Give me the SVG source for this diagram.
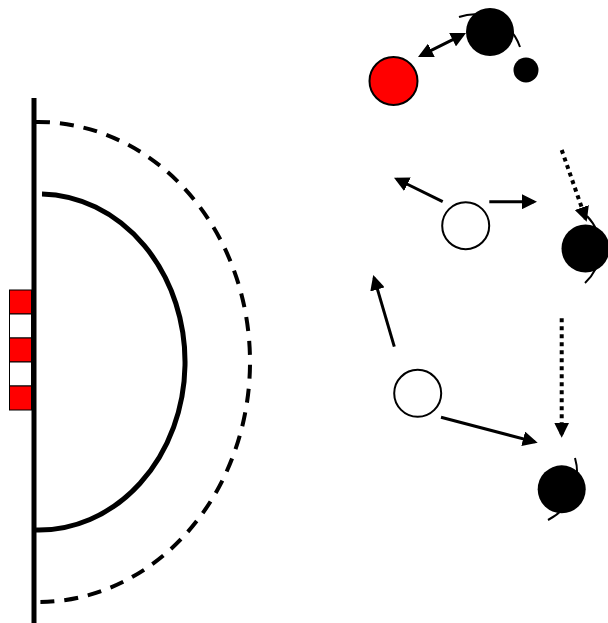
<svg xmlns="http://www.w3.org/2000/svg" width="608" height="623" viewBox="0 0 608 623">
  <style>
    .court { fill: none; stroke: #000; }
    .arr { fill: none; stroke: #000; stroke-width: 3; }
    .dot { fill: none; stroke: #000; stroke-width: 4; stroke-dasharray: 4 4; }
    .stick { fill: none; stroke: #000; stroke-width: 2; }
    .opp { fill: #000; }
    .att { fill: #fff; stroke: #000; stroke-width: 2; }
    .red { fill: #ff0000; stroke: #000; stroke-width: 2; }
    .gr { fill: #ff0000; stroke: #000; stroke-width: 1; }
    .gw { fill: #fff; stroke: #000; stroke-width: 1; }
  </style>
  <defs>
    <marker id="ah" markerUnits="userSpaceOnUse" markerWidth="15" markerHeight="15" refX="12" refY="7.5" orient="auto-start-reverse">
      <path d="M0,0 L15,7.5 L0,15 z" fill="#000"/>
    </marker>
  </defs>
  <rect width="608" height="623" fill="#fff"/>

  <g id="goal">
    <rect class="gr" x="9.5" y="290" width="22" height="24"/>
    <rect class="gw" x="9.5" y="314" width="22" height="24"/>
    <rect class="gr" x="9.5" y="338" width="22" height="24"/>
    <rect class="gw" x="9.5" y="362" width="22" height="24"/>
    <rect class="gr" x="9.5" y="386" width="22" height="24"/>
  </g>
  <g id="court">
    <path class="court" stroke-width="4" stroke-dasharray="14 10" d="M36,122 A212,240 0 0 1 40,602"/>
    <path class="court" stroke-width="5" d="M42,194 A146,168 0 0 1 36,530"/>
    <line class="court" stroke-width="5" x1="34" y1="98" x2="34" y2="623"/>
  </g>

  <g id="connectors">
    <line class="arr" x1="420.7" y1="55.7" x2="463.3" y2="34.3" marker-start="url(#ah)" marker-end="url(#ah)"/>
    <line class="arr" x1="442.7" y1="201.7" x2="396.7" y2="179" marker-end="url(#ah)"/>
    <line class="arr" x1="489.3" y1="201.7" x2="534" y2="201.7" marker-end="url(#ah)"/>
    <line class="arr" x1="394.3" y1="346.7" x2="374.1" y2="277.9" marker-end="url(#ah)"/>
    <line class="arr" x1="441" y1="417.3" x2="534.8" y2="441.9" marker-end="url(#ah)"/>
    <line class="dot" x1="561.7" y1="150" x2="585.7" y2="218.9" marker-end="url(#ah)"/>
    <line class="dot" x1="561.7" y1="318.3" x2="561.7" y2="434.7" marker-end="url(#ah)"/>
  </g>

  <g id="red-player">
    <circle class="red" cx="393.5" cy="81" r="24"/>
  </g>
  <g id="defender-top">
    <path class="stick" d="M459,17 A48,48 0 0 1 520,47"/>
    <circle class="opp" cx="490" cy="32" r="24"/>
  </g>
  <g id="ball">
    <circle class="opp" cx="526" cy="70" r="12.5"/>
  </g>
  <g id="attacker-1">
    <circle class="att" cx="465.7" cy="225.7" r="23.5"/>
  </g>
  <g id="defender-mid">
    <path class="stick" d="M587,216 A47,47 0 0 1 585,283"/>
    <circle class="opp" cx="585.5" cy="248.5" r="24"/>
  </g>
  <g id="attacker-2">
    <circle class="att" cx="417.7" cy="393.3" r="23.5"/>
  </g>
  <g id="defender-bottom">
    <path class="stick" d="M575,458 A53,53 0 0 1 548,520"/>
    <circle class="opp" cx="561.7" cy="489.3" r="24"/>
  </g>
</svg>
